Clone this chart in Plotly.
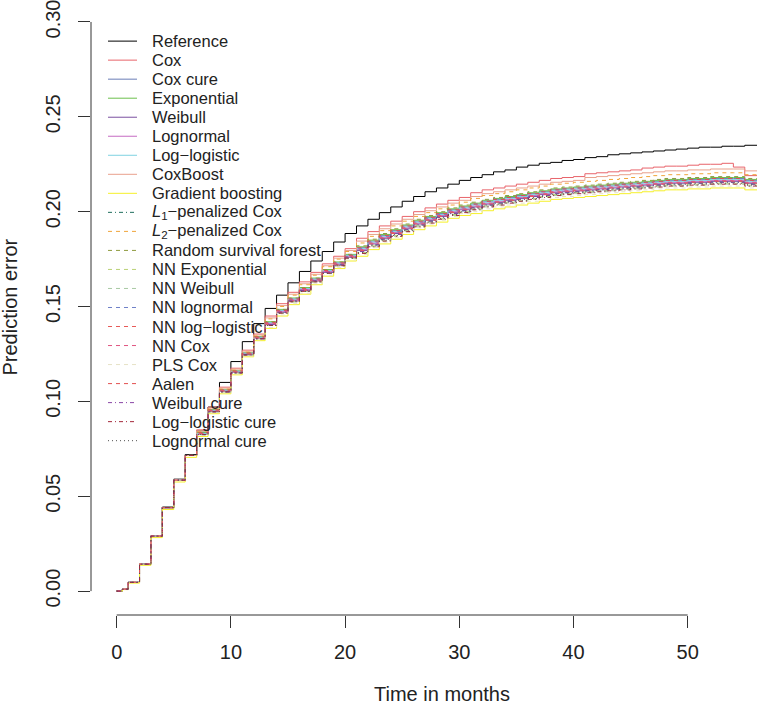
import plotly.graph_objects as go

# step times in months (last entry only carries the final level to the edge)
TIMES = [0, 0.5, 1] + list(range(2, 56)) + [57]

# prediction error values, in thousandths
EARLY = [0, 1.0, 4.6, 14.2, 29.0, 44.0, 58.5, 71.5]

reference = [0, 1.0, 4.6, 14.3, 29.2, 44.3, 59.0, 72.0,
             84.5, 97.0, 110.0, 121.0, 131.5, 141.0, 149.0, 156.0, 162.5, 168.5,
             174.0, 179.0, 184.0, 188.5, 192.5, 196.0, 199.5, 202.5, 205.5, 208.0,
             210.5, 212.5, 214.5, 216.5, 218.0, 219.5, 221.0, 222.0, 223.5, 224.5,
             225.5, 226.0, 227.0, 227.5, 228.5, 229.0, 230.0, 230.5, 231.0, 231.5,
             232.0, 232.5, 233.0, 233.5, 234.0, 234.0, 234.5, 234.5, 235.0, 235.0]

cox = EARLY + [85.0, 97.0, 107.5, 117.5, 127.0, 135.5,
               145.0, 151.5, 157.5, 163.0, 168.0, 172.5, 176.5, 180.5,
               186.0, 189.5, 192.5, 195.0, 197.5, 200.0, 202.0, 204.0, 206.0, 207.5,
               210.0, 211.5, 212.5, 213.5, 214.5, 215.5, 216.5, 217.5, 218.0, 218.5,
               220.0, 220.5, 221.0, 221.5, 222.0, 223.0, 223.5, 224.0, 224.0, 224.5,
               225.0, 225.0, 225.5, 223.5, 219.0, 219.0]

cox_cure = EARLY + [83.5, 95.5, 106.0, 116.0, 125.5, 134.0,
                    141.5, 148.0, 154.0, 159.5, 164.5, 169.0, 173.0, 177.0,
                    181.0, 184.5, 187.5, 190.0, 192.5, 195.0, 197.0, 199.0, 201.0, 202.5,
                    204.0, 205.5, 206.5, 207.5, 208.5, 209.5, 210.5, 211.5, 212.0, 212.5,
                    213.0, 213.5, 214.0, 214.5, 215.0, 215.5, 216.0, 216.5, 216.5, 217.0,
                    217.0, 217.5, 217.5, 217.5, 216.5, 216.5]

exponential = EARLY + [83.5, 95.5, 106.0, 116.0, 125.5, 134.0,
                       142.0, 148.5, 154.5, 160.0, 165.0, 169.5, 173.5, 177.5,
                       181.5, 185.0, 188.0, 190.5, 193.0, 195.5, 197.5, 199.5, 201.5, 203.0,
                       204.5, 206.0, 207.0, 208.0, 209.0, 210.0, 211.0, 212.0, 212.5, 213.0,
                       213.5, 214.0, 214.5, 215.0, 215.5, 216.0, 216.5, 217.0, 217.0, 217.5,
                       217.5, 218.0, 218.0, 218.0, 217.0, 217.0]

weibull = EARLY + [83.0, 95.0, 105.5, 115.5, 125.0, 133.5,
                   140.5, 147.0, 153.0, 158.5, 163.5, 168.0, 172.0, 176.0,
                   179.5, 183.0, 186.0, 188.5, 191.0, 193.5, 195.5, 197.5, 199.5, 201.0,
                   202.5, 204.0, 205.0, 206.0, 207.0, 208.0, 209.0, 210.0, 210.5, 211.0,
                   211.5, 212.0, 212.5, 213.0, 213.5, 214.0, 214.5, 215.0, 215.0, 215.5,
                   215.5, 216.0, 216.0, 216.0, 215.0, 215.0]

lognormal = EARLY + [83.0, 95.0, 105.5, 115.5, 125.0, 133.5,
                     141.0, 147.5, 153.5, 159.0, 164.0, 168.5, 172.5, 176.5,
                     180.0, 183.5, 186.5, 189.0, 191.5, 194.0, 196.0, 198.0, 200.0, 201.5,
                     203.0, 204.5, 205.5, 206.5, 207.5, 208.5, 209.5, 210.5, 211.0, 211.5,
                     212.0, 212.5, 213.0, 213.5, 214.0, 214.5, 215.0, 215.5, 215.5, 216.0,
                     216.0, 216.5, 216.5, 216.5, 215.5, 215.5]

log_logistic = EARLY + [83.0, 95.0, 105.5, 115.5, 125.0, 133.5,
                        141.5, 148.0, 154.0, 159.5, 164.5, 169.0, 173.0, 177.0,
                        180.5, 184.0, 187.0, 189.5, 192.0, 194.5, 196.5, 198.5, 200.5, 202.0,
                        203.5, 205.0, 206.0, 207.0, 208.0, 209.0, 210.0, 211.0, 211.5, 212.0,
                        212.5, 213.0, 213.5, 214.0, 214.5, 215.0, 215.5, 216.0, 216.0, 216.5,
                        216.5, 217.0, 217.0, 217.0, 216.0, 216.0]

coxboost = EARLY + [84.5, 96.5, 107.0, 117.0, 126.5, 135.0,
                    144.0, 150.5, 156.5, 162.0, 167.0, 171.5, 175.5, 179.5,
                    184.5, 188.0, 191.0, 193.5, 196.0, 198.5, 200.5, 202.5, 204.5, 206.0,
                    208.0, 209.5, 210.5, 211.5, 212.5, 213.5, 214.5, 215.5, 216.0, 216.5,
                    218.0, 218.5, 219.0, 219.5, 220.0, 220.5, 221.0, 221.5, 221.5, 222.0,
                    222.0, 222.5, 222.5, 222.5, 221.5, 221.5]

gradient_boosting = [0, 0.8, 4.2, 13.6, 28.2, 43.0, 57.5, 70.5,
                     81.5, 93.5, 104.0, 114.0, 123.5, 132.0,
                     138.5, 145.0, 151.0, 156.5, 161.5, 166.0, 170.0, 174.0,
                     176.5, 180.0, 183.0, 185.5, 188.0, 190.5, 192.5, 194.5, 196.5, 198.0,
                     199.0, 200.5, 201.5, 202.5, 203.5, 204.5, 205.5, 206.5, 207.0, 207.5,
                     208.0, 208.5, 209.0, 209.5, 210.0, 210.5, 211.0, 211.5, 211.5, 212.0,
                     212.0, 212.5, 212.5, 212.5, 211.5, 211.5]

l1_cox = EARLY + [82.5, 94.5, 105.0, 115.0, 124.5, 133.0,
                  140.5, 147.0, 153.0, 158.5, 163.5, 168.0, 172.0, 176.0,
                  179.0, 182.5, 185.5, 188.0, 190.5, 193.0, 195.0, 197.0, 199.0, 200.5,
                  202.0, 203.5, 204.5, 205.5, 206.5, 207.5, 208.5, 209.5, 210.0, 210.5,
                  211.0, 211.5, 212.0, 212.5, 213.0, 213.5, 214.0, 214.5, 214.5, 215.0,
                  215.0, 215.5, 215.5, 215.5, 214.5, 214.5]

l2_cox = EARLY + [84.0, 96.0, 106.5, 116.5, 126.0, 134.5,
                  143.5, 150.0, 156.0, 161.5, 166.5, 171.0, 175.0, 179.0,
                  183.5, 187.0, 190.0, 192.5, 195.0, 197.5, 199.5, 201.5, 203.5, 205.0,
                  207.0, 208.5, 209.5, 210.5, 211.5, 212.5, 213.5, 214.5, 215.0, 215.5,
                  216.0, 216.5, 217.0, 217.5, 218.0, 218.5, 219.0, 219.5, 219.5, 220.0,
                  220.0, 220.5, 220.5, 220.5, 219.5, 219.5]

rsf = EARLY + [83.5, 95.5, 106.0, 116.0, 125.5, 134.0,
               142.0, 148.5, 154.5, 160.0, 165.0, 169.5, 173.5, 177.5,
               182.0, 185.5, 188.5, 191.0, 193.5, 196.0, 198.0, 200.0, 202.0, 203.5,
               205.0, 206.5, 207.5, 208.5, 209.5, 210.5, 211.5, 212.5, 213.0, 213.5,
               214.0, 214.5, 215.0, 215.5, 216.0, 216.5, 217.0, 217.5, 217.5, 218.0,
               218.0, 218.5, 218.5, 218.5, 217.5, 217.5]

nn_exponential = EARLY + [82.5, 94.5, 105.0, 115.0, 124.5, 133.0,
                          140.0, 146.5, 152.5, 158.0, 163.0, 167.5, 171.5, 175.5,
                          178.5, 182.0, 185.0, 187.5, 190.0, 192.5, 194.5, 196.5, 198.5, 200.0,
                          201.5, 203.0, 204.0, 205.0, 206.0, 207.0, 208.0, 209.0, 209.5, 210.0,
                          210.5, 211.0, 211.5, 212.0, 212.5, 213.0, 213.5, 214.0, 214.0, 214.5,
                          214.5, 215.0, 215.0, 215.0, 214.0, 214.0]

nn_weibull = EARLY + [82.5, 94.5, 105.0, 115.0, 124.5, 133.0,
                      140.0, 146.5, 152.5, 158.0, 163.0, 167.5, 171.5, 175.5,
                      178.0, 181.5, 184.5, 187.0, 189.5, 192.0, 194.0, 196.0, 198.0, 199.5,
                      201.0, 202.5, 203.5, 204.5, 205.5, 206.5, 207.5, 208.5, 209.0, 209.5,
                      210.0, 210.5, 211.0, 211.5, 212.0, 212.5, 213.0, 213.5, 213.5, 214.0,
                      214.0, 214.5, 214.5, 214.5, 213.5, 213.5]

nn_lognormal = EARLY + [83.0, 95.0, 105.5, 115.5, 125.0, 133.5,
                        141.5, 148.0, 154.0, 159.5, 164.5, 169.0, 173.0, 177.0,
                        180.5, 184.0, 187.0, 189.5, 192.0, 194.5, 196.5, 198.5, 200.5, 202.0,
                        204.0, 205.5, 206.5, 207.5, 208.5, 209.5, 210.5, 211.5, 212.0, 212.5,
                        213.0, 213.5, 214.0, 214.5, 215.0, 215.5, 216.0, 216.5, 216.5, 217.0,
                        217.0, 217.5, 217.5, 217.5, 216.5, 216.5]

nn_log_logistic = EARLY + [83.0, 95.0, 105.5, 115.5, 125.0, 133.5,
                           140.5, 147.0, 153.0, 158.5, 163.5, 168.0, 172.0, 176.0,
                           179.5, 183.0, 186.0, 188.5, 191.0, 193.5, 195.5, 197.5, 199.5, 201.0,
                           202.5, 204.0, 205.0, 206.0, 207.0, 208.0, 209.0, 210.0, 210.5, 211.0,
                           211.5, 212.0, 212.5, 213.0, 213.5, 214.0, 214.5, 215.0, 215.0, 215.5,
                           215.5, 216.0, 216.0, 216.0, 215.0, 215.0]

nn_cox = EARLY + [83.0, 95.0, 105.5, 115.5, 125.0, 133.5,
                  141.0, 147.5, 153.5, 159.0, 164.0, 168.5, 172.5, 176.5,
                  180.0, 183.5, 186.5, 189.0, 191.5, 194.0, 196.0, 198.0, 200.0, 201.5,
                  203.0, 204.5, 205.5, 206.5, 207.5, 208.5, 209.5, 210.5, 211.0, 211.5,
                  212.0, 212.5, 213.0, 213.5, 214.0, 214.5, 215.0, 215.5, 215.5, 216.0,
                  216.0, 216.5, 216.5, 216.5, 215.5, 215.5]

pls_cox = EARLY + [82.0, 94.0, 104.5, 114.5, 124.0, 132.5,
                   139.0, 145.5, 151.5, 157.0, 162.0, 166.5, 170.5, 174.5,
                   177.5, 181.0, 184.0, 186.5, 189.0, 191.5, 193.5, 195.5, 197.5, 199.0,
                   200.0, 201.5, 202.5, 203.5, 204.5, 205.5, 206.5, 207.5, 208.0, 208.5,
                   209.0, 209.5, 210.0, 210.5, 211.0, 211.5, 212.0, 212.5, 212.5, 213.0,
                   213.0, 213.5, 213.5, 213.5, 212.5, 212.5]

aalen = EARLY + [83.5, 95.5, 106.0, 116.0, 125.5, 134.0,
                 141.5, 148.0, 154.0, 159.5, 164.5, 169.0, 173.0, 177.0,
                 181.0, 184.5, 187.5, 190.0, 192.5, 195.0, 197.0, 199.0, 201.0, 202.5,
                 204.0, 205.5, 206.5, 207.5, 208.5, 209.5, 210.5, 211.5, 212.0, 212.5,
                 213.0, 213.5, 214.0, 214.5, 215.0, 215.5, 216.0, 216.5, 216.5, 217.0,
                 217.0, 217.5, 217.5, 217.5, 216.5, 216.5]

weibull_cure = EARLY + [82.5, 94.5, 105.0, 115.0, 124.5, 133.0,
                        140.5, 147.0, 153.0, 158.5, 163.5, 168.0, 172.0, 176.0,
                        179.0, 182.5, 185.5, 188.0, 190.5, 193.0, 195.0, 197.0, 199.0, 200.5,
                        202.0, 203.5, 204.5, 205.5, 206.5, 207.5, 208.5, 209.5, 210.0, 210.5,
                        211.0, 211.5, 212.0, 212.5, 213.0, 213.5, 214.0, 214.5, 214.5, 215.0,
                        215.0, 215.5, 215.5, 215.5, 214.5, 214.5]

log_logistic_cure = EARLY + [82.5, 94.5, 105.0, 115.0, 124.5, 133.0,
                             140.0, 146.5, 152.5, 158.0, 163.0, 167.5, 171.5, 175.5,
                             178.0, 181.5, 184.5, 187.0, 189.5, 192.0, 194.0, 196.0, 198.0, 199.5,
                             201.0, 202.5, 203.5, 204.5, 205.5, 206.5, 207.5, 208.5, 209.0, 209.5,
                             210.0, 210.5, 211.0, 211.5, 212.0, 212.5, 213.0, 213.5, 213.5, 214.0,
                             214.0, 214.5, 214.5, 214.5, 213.5, 213.5]

lognormal_cure = EARLY + [82.5, 94.5, 105.0, 115.0, 124.5, 133.0,
                          140.0, 146.5, 152.5, 158.0, 163.0, 167.5, 171.5, 175.5,
                          178.5, 182.0, 185.0, 187.5, 190.0, 192.5, 194.5, 196.5, 198.5, 200.0,
                          201.5, 203.0, 204.0, 205.0, 206.0, 207.0, 208.0, 209.0, 209.5, 210.0,
                          210.5, 211.0, 211.5, 212.0, 212.5, 213.0, 213.5, 214.0, 214.0, 214.5,
                          214.5, 215.0, 215.0, 215.0, 214.0, 214.0]

NAMES = ["Reference", "Cox", "Cox cure", "Exponential", "Weibull", "Lognormal",
         "Log\u2212logistic", "CoxBoost", "Gradient boosting",
         "<i>L</i><sub>1</sub>\u2212penalized Cox", "<i>L</i><sub>2</sub>\u2212penalized Cox",
         "Random survival forest", "NN Exponential", "NN Weibull", "NN lognormal",
         "NN log\u2212logistic", "NN Cox", "PLS Cox", "Aalen", "Weibull cure",
         "Log\u2212logistic cure", "Lognormal cure"]
SERIES = [reference, cox, cox_cure, exponential, weibull, lognormal, log_logistic,
          coxboost, gradient_boosting, l1_cox, l2_cox, rsf, nn_exponential, nn_weibull,
          nn_lognormal, nn_log_logistic, nn_cox, pls_cox, aalen, weibull_cure,
          log_logistic_cure, lognormal_cure]
COLORS = ["#000000", "#E8636A", "#6A7DB6", "#6CBF4C", "#7A4FA0", "#C56BC2",
          "#7FD2E2", "#E9A18C", "#F5F02A", "#1F6E5E", "#F0A43A", "#8E9A3E",
          "#B9D174", "#A9C9A4", "#6F80C8", "#E75A58", "#E05581", "#E6E2C6",
          "#E35050", "#8A46A6", "#A3283A", "#505050"]
SOLID = "solid"
DASH = "4px,4px"
DASHDOT = "4px,3px,1px,3px"
DOT = "1px,3px"
DASHES = [SOLID] * 9 + [DASHDOT] + [DASH] * 9 + [DASHDOT, DASHDOT, DOT]

FONT = "Liberation Sans, Arial, Helvetica, sans-serif"
TXT = "#222222"

fig = go.Figure()
for name, vals, col, dsh in zip(NAMES, SERIES, COLORS, DASHES):
    fig.add_trace(
        go.Scatter(
            x=TIMES,
            y=[v / 1000 for v in vals],
            mode="lines",
            line=dict(color=col, width=1, dash=dsh, shape="hv"),
            name=name,
            showlegend=False,
        )
    )

ML, MB, W, H = 91, 91, 757, 706
PW, PH = W - ML, H - MB


def px_x(p):
    return (p - ML) / PW


def px_y(p):
    return (PH - p) / PH


shapes = [
    # R style axis lines spanning only the tick range
    dict(type="line", xref="x", yref="paper", x0=0, x1=50, y0=0, y1=0,
         line=dict(color="#333333", width=1)),
    dict(type="line", xref="paper", yref="y", x0=0, x1=0, y0=0, y1=0.30,
         line=dict(color="#333333", width=1)),
]
annotations = []
for k, (name, col, dsh) in enumerate(zip(NAMES, COLORS, DASHES)):
    yy = 38.3 + 19.12 * k
    shapes.append(dict(type="line", xref="paper", yref="paper",
                       x0=px_x(108), x1=px_x(137), y0=px_y(yy), y1=px_y(yy),
                       line=dict(color=col, width=1, dash=dsh)))
    annotations.append(dict(xref="paper", yref="paper", x=px_x(150), y=px_y(yy),
                            text=name, showarrow=False, xanchor="left",
                            yanchor="middle", font=dict(size=16.5, color=TXT, family=FONT)))

annotations.append(dict(xref="paper", yref="paper", x=px_x(442), y=px_y(694),
                        text="Time in months", showarrow=False, xanchor="center",
                        yanchor="middle", font=dict(size=20, color=TXT, family=FONT)))
annotations.append(dict(xref="paper", yref="paper", x=px_x(10), y=px_y(306),
                        text="Prediction error", showarrow=False, textangle=-90,
                        xanchor="center", yanchor="middle",
                        font=dict(size=20, color=TXT, family=FONT)))

fig.update_layout(
    width=W,
    height=H,
    margin=dict(l=ML, r=0, t=0, b=MB),
    paper_bgcolor="white",
    plot_bgcolor="white",
    shapes=shapes,
    annotations=annotations,
    font=dict(family=FONT, color=TXT),
    xaxis=dict(
        range=[-2.25, 56.07],
        tickvals=[0, 10, 20, 30, 40, 50],
        ticks="outside",
        ticklen=12,
        tickcolor="#333333",
        showgrid=False,
        zeroline=False,
        showline=False,
        ticklabelstandoff=7,
        ticklabeloverflow="allow",
        tickfont=dict(size=20, color=TXT, family=FONT),
    ),
    yaxis=dict(
        range=[-0.0126, 0.31],
        tickvals=[0, 0.05, 0.10, 0.15, 0.20, 0.25, 0.30],
        tickformat=".2f",
        tickangle=-90,
        ticks="outside",
        ticklen=12,
        tickcolor="#333333",
        showgrid=False,
        zeroline=False,
        showline=False,
        ticklabelstandoff=10,
        ticklabeloverflow="allow",
        tickfont=dict(size=20, color=TXT, family=FONT),
    ),
)

fig.write_html(
    "out.html",
    config={"displayModeBar": False},
    post_script="document.body.style.margin = '0px';",
)
